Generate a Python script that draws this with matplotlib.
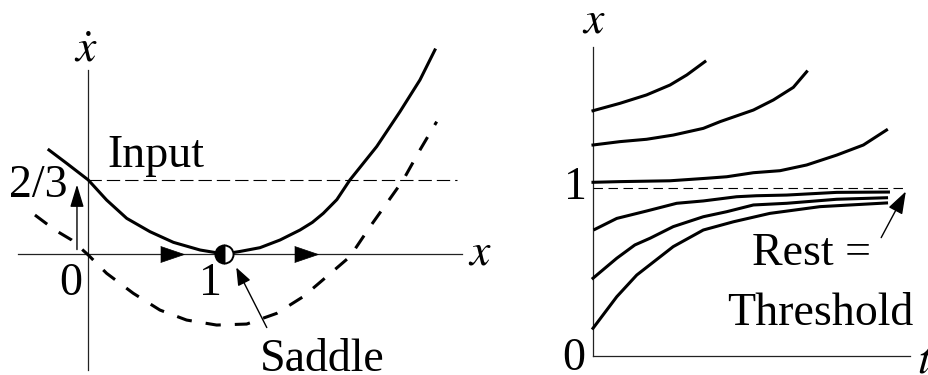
import matplotlib
matplotlib.use("Agg")
import matplotlib.pyplot as plt

plt.rcParams['font.family'] = ['Liberation Serif', 'DejaVu Serif']
plt.rcParams['mathtext.fontset'] = 'stix'

# left panel: phase line xdot against x
solid_x = [-0.287, -0.157, 0.002, 0.137, 0.285, 0.456, 0.628, 0.824, 1.0, 1.118,
           1.265, 1.412, 1.559, 1.650, 1.730, 1.830, 1.926, 2.123, 2.294, 2.441, 2.551]
solid_y = [0.937, 0.817, 0.667, 0.486, 0.321, 0.201, 0.105, 0.036, 0.0, 0.023,
           0.057, 0.126, 0.216, 0.285, 0.366, 0.490, 0.667, 0.968, 1.282, 1.568, 1.838]
dash_x = [-0.390, -0.243, -0.120, 0.002, 0.137, 0.333, 0.529, 0.725, 0.946, 1.167,
          1.387, 1.583, 1.755, 1.926, 2.074, 2.196, 2.318, 2.441, 2.564]
dash_y = [0.351, 0.216, 0.126, -0.009, -0.174, -0.354, -0.505, -0.595, -0.640, -0.631,
          -0.535, -0.384, -0.204, -0.024, 0.246, 0.456, 0.667, 0.937, 1.192]
input_level = 2 / 3
saddle = (1.0, 0.0)
flow_arrows = [0.618, 1.603]

# right panel: trajectories x(t)
traj_t = [
    [0.0, 0.085, 0.169, 0.243, 0.296, 0.353],
    [0.0, 0.085, 0.169, 0.253, 0.348, 0.401, 0.506, 0.569, 0.632, 0.674],
    [0.0, 0.085, 0.243, 0.359, 0.422, 0.506, 0.590, 0.674, 0.769, 0.853, 0.926],
    [0.006, 0.075, 0.169, 0.264, 0.348, 0.453, 0.516, 0.611, 0.769, 0.932],
    [0.0, 0.075, 0.132, 0.180, 0.253, 0.348, 0.422, 0.506, 0.611, 0.769, 0.926],
    [0.0, 0.075, 0.138, 0.253, 0.348, 0.443, 0.558, 0.716, 0.926],
]
traj_x = [
    [1.460, 1.504, 1.554, 1.613, 1.673, 1.752],
    [1.256, 1.276, 1.290, 1.315, 1.355, 1.395, 1.464, 1.524, 1.599, 1.692],
    [1.034, 1.038, 1.043, 1.058, 1.067, 1.091, 1.103, 1.137, 1.196, 1.256, 1.345],
    [0.754, 0.819, 0.863, 0.909, 0.923, 0.948, 0.954, 0.958, 0.974, 0.976],
    [0.463, 0.582, 0.661, 0.701, 0.770, 0.829, 0.859, 0.899, 0.909, 0.933, 0.942],
    [0.165, 0.353, 0.482, 0.651, 0.750, 0.799, 0.849, 0.889, 0.911],
]
threshold = 1.0

FS = 33
LW = 2.2
AXLW = 0.9
AXC = '#222222'

fig = plt.figure(figsize=(9.29, 3.75), dpi=100)

# ---- left ----
ax = fig.add_axes([0, 0, 470 / 929, 1])
ax.set_xlim(-0.647, 2.809)
ax.set_ylim(-1.090, 2.288)
ax.axis('off')

ax.plot([-0.515, 2.75], [0, 0], color=AXC, lw=AXLW)
ax.plot([0, 0], [-1.045, 1.658], color=AXC, lw=AXLW)
ax.plot([0, 2.71], [input_level, input_level], color='k', lw=0.8, dashes=(12, 4.5))

ax.plot(solid_x, solid_y, color='k', lw=LW, solid_joinstyle='round')
ax.plot(dash_x, dash_y, color='k', lw=LW, dashes=(5, 4.6))

tri = [(-1, -0.68), (1, 0), (-1, 0.68)]
for fx in flow_arrows:
    ax.plot([fx], [0], marker=tri, ms=17, color='k', mec='k', mew=0.5)

ax.plot([saddle[0]], [saddle[1]], 'o', ms=13, fillstyle='left', mfc='k',
        markerfacecoloralt='w', mec='k', mew=1.4)

ax.annotate('', xy=(-0.081, 0.65), xytext=(-0.081, 0.015),
            arrowprops=dict(arrowstyle='-|>,head_length=1.15,head_width=0.35',
                            mutation_scale=12, lw=1.0, color='k'))
ax.annotate('', xy=(1.081, -0.099), xytext=(1.324, -0.685),
            arrowprops=dict(arrowstyle='-|>,head_length=0.9,head_width=0.35',
                            mutation_scale=12, lw=1.0, color='k'))

ax.text(-0.154, 0.51, '2/3', fontsize=FS, ha='right', va='baseline')
ax.text(0.14, 0.784, 'Input', fontsize=FS, ha='left', va='baseline')
ax.text(-0.044, -0.369, '0', fontsize=FS, ha='right', va='baseline')
ax.text(0.90, -0.369, '1', fontsize=FS, ha='center', va='baseline')
ax.text(1.265, -1.05, 'Saddle', fontsize=FS, ha='left', va='baseline')
ax.text(-0.015, 1.73, r'$\dot{x}$', fontsize=FS, ha='center', va='baseline')
ax.text(2.794, -0.099, r'$x$', fontsize=FS, ha='left', va='baseline')

# ---- right ----
bx = fig.add_axes([520 / 929, 0, 409 / 929, 1])
bx.set_xlim(-0.2303, 1.06)
bx.set_ylim(-0.113, 2.119)
bx.axis('off')

bx.plot([0, 1.0], [0, 0], color=AXC, lw=AXLW)
bx.plot([0, 0], [0, 1.84], color=AXC, lw=AXLW)
bx.plot([0, 0.991], [threshold, threshold], color='k', lw=0.8, dashes=(8.5, 5))

for tt, xx in zip(traj_t, traj_x):
    bx.plot(tt, xx, color='k', lw=LW, solid_joinstyle='round')

bx.annotate('', xy=(0.991, 0.994), xytext=(0.905, 0.690),
            arrowprops=dict(arrowstyle='-|>,head_length=1.15,head_width=0.4',
                            mutation_scale=12, lw=1.0, color='k'))

bx.text(-0.019, 0.935, '1', fontsize=FS, ha='right', va='baseline')
bx.text(-0.025, -0.083, '0', fontsize=FS, ha='right', va='baseline')
bx.text(0.003, 1.923, r'$x$', fontsize=FS, ha='center', va='baseline')
bx.text(1.022, -0.101, r'$t$', fontsize=FS, ha='left', va='baseline')
bx.text(0.689, 0.542, 'Rest =', fontsize=FS, ha='center', va='baseline')
bx.text(0.716, 0.185, 'Threshold', fontsize=FS, ha='center', va='baseline')

fig.savefig('out.png', dpi=100)
